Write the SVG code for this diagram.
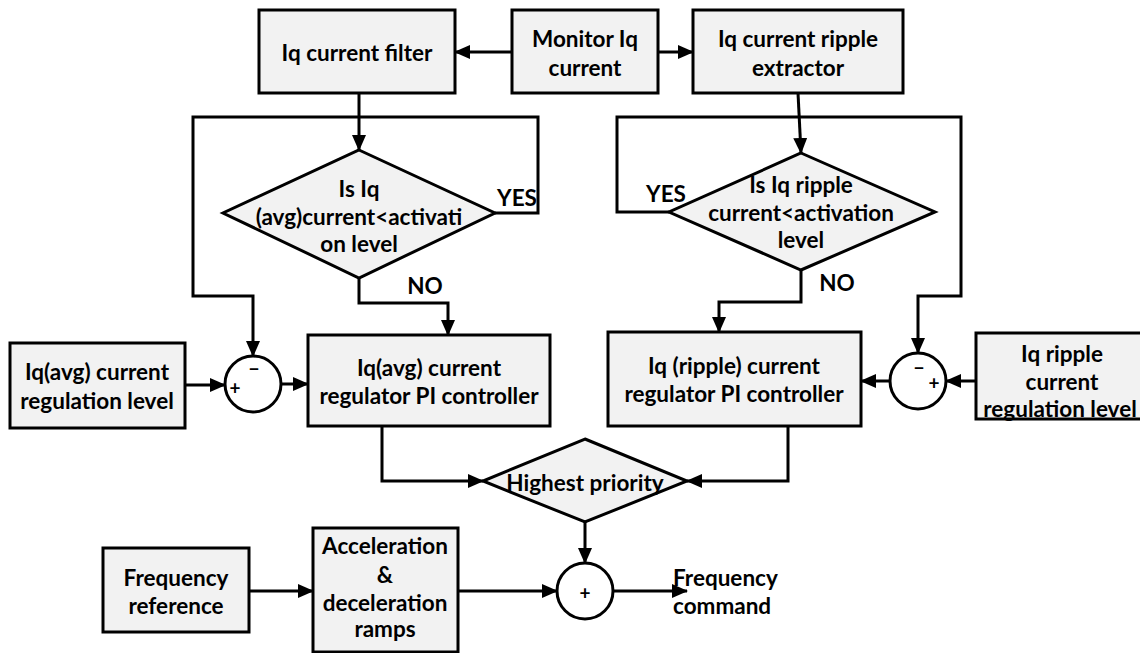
<svg xmlns="http://www.w3.org/2000/svg" width="1140" height="653" viewBox="0 0 1140 653">
  <style>
    .box { fill: #f2f2f2; stroke: #000; stroke-width: 3; }
    .sum { fill: #fff; stroke: #000; stroke-width: 3; }
    .wire { fill: none; stroke: #000; stroke-width: 3; }
    .arrow { marker-end: url(#head); }
    text { font-family: Lato, "Liberation Sans", sans-serif; font-weight: bold; font-size: 22.5px; fill: #000; text-anchor: middle; dominant-baseline: central; }
    .sign { font-size: 19px; }
    .left { text-anchor: start; }
  </style>
  <defs>
    <marker id="head" markerUnits="userSpaceOnUse" markerWidth="16" markerHeight="14" refX="15" refY="7" orient="auto">
      <path d="M0,0 L16,7 L0,14 z" fill="#000"/>
    </marker>
  </defs>

  <!-- connectors -->
  <g id="connectors">
    <path class="wire arrow" d="M512,52 H455"/>
    <path class="wire arrow" d="M658,52 H693"/>
    <path class="wire arrow" d="M359,93 V150"/>
    <path class="wire arrow" d="M495,213 H538 V117 H193 V296 H253 V356"/>
    <path class="wire arrow" d="M359,278 V303 H448 V335"/>
    <path class="wire arrow" d="M798,93 L801,153"/>
    <path class="wire arrow" d="M669,212 H617 V117 H961 V296 H918 V353"/>
    <path class="wire arrow" d="M801,270 V302 H719 V332"/>
    <path class="wire arrow" d="M185,385 H225"/>
    <path class="wire arrow" d="M281,384 H308"/>
    <path class="wire arrow" d="M976,381 H946"/>
    <path class="wire arrow" d="M890,381 H861"/>
    <path class="wire arrow" d="M382,426 V481 H483"/>
    <path class="wire arrow" d="M788,426 V481 H687"/>
    <path class="wire arrow" d="M585,522 V563"/>
    <path class="wire arrow" d="M249,591 H313"/>
    <path class="wire arrow" d="M458,591 H557"/>
    <path class="wire arrow" d="M613,591 H687"/>
  </g>

  <g id="iq-filter">
    <rect class="box" x="259" y="10" width="196" height="83"/>
    <text x="357" y="52">Iq current filter</text>
  </g>

  <g id="monitor">
    <rect class="box" x="512" y="10" width="146" height="83"/>
    <text x="585" y="38">Monitor Iq</text>
    <text x="585" y="67">current</text>
  </g>

  <g id="ripple-extractor">
    <rect class="box" x="693" y="10" width="210" height="83"/>
    <text x="798" y="38">Iq current ripple</text>
    <text x="798" y="67">extractor</text>
  </g>

  <g id="avg-check">
    <polygon class="box" points="359,150 495,213 359,278 223,213"/>
    <text x="359" y="188">Is Iq</text>
    <text x="359" y="216">(avg)current&lt;activati</text>
    <text x="359" y="243">on level</text>
    <text x="517" y="197">YES</text>
    <text x="425" y="285">NO</text>
  </g>

  <g id="ripple-check">
    <polygon class="box" points="801,153 935,212 801,270 669,212"/>
    <text x="801" y="184">Is Iq ripple</text>
    <text x="801" y="212">current&lt;activation</text>
    <text x="801" y="239">level</text>
    <text x="666" y="193">YES</text>
    <text x="837" y="282">NO</text>
  </g>

  <g id="avg-level">
    <rect class="box" x="10" y="343" width="175" height="85"/>
    <text x="97" y="371">Iq(avg) current</text>
    <text x="97" y="400">regulation level</text>
  </g>

  <g id="avg-sum">
    <circle class="sum" cx="253" cy="384" r="28"/>
    <text class="sign" x="254" y="368">−</text>
    <text class="sign" x="235" y="387">+</text>
  </g>

  <g id="avg-pi">
    <rect class="box" x="308" y="335" width="242" height="91"/>
    <text x="429" y="367">Iq(avg) current</text>
    <text x="429" y="395">regulator PI controller</text>
  </g>

  <g id="ripple-pi">
    <rect class="box" x="608" y="332" width="253" height="94"/>
    <text x="734" y="365">Iq (ripple) current</text>
    <text x="734" y="393">regulator PI controller</text>
  </g>

  <g id="ripple-sum">
    <circle class="sum" cx="918" cy="381" r="28"/>
    <text class="sign" x="919" y="367">−</text>
    <text class="sign" x="934" y="382">+</text>
  </g>

  <g id="ripple-level">
    <rect class="box" x="976" y="333" width="170" height="86"/>
    <text x="1062" y="353">Iq ripple</text>
    <text x="1062" y="381">current</text>
    <text x="1060" y="408">regulation level</text>
  </g>

  <g id="priority">
    <polygon class="box" points="585,439 687,481 585,522 483,481"/>
    <text x="585" y="482">Highest priority</text>
  </g>

  <g id="freq-ref">
    <rect class="box" x="103" y="548" width="146" height="84"/>
    <text x="176" y="577">Frequency</text>
    <text x="176" y="605">reference</text>
  </g>

  <g id="ramps">
    <rect class="box" x="313" y="528" width="145" height="124"/>
    <text x="385" y="545">Acceleration</text>
    <text x="385" y="574">&amp;</text>
    <text x="385" y="602">deceleration</text>
    <text x="385" y="628">ramps</text>
  </g>

  <g id="freq-sum">
    <circle class="sum" cx="585" cy="591" r="28"/>
    <text class="sign" x="585" y="592">+</text>
  </g>

  <g id="freq-command">
    <text class="left" x="673" y="577">Frequency</text>
    <text class="left" x="673" y="605">command</text>
  </g>
</svg>
